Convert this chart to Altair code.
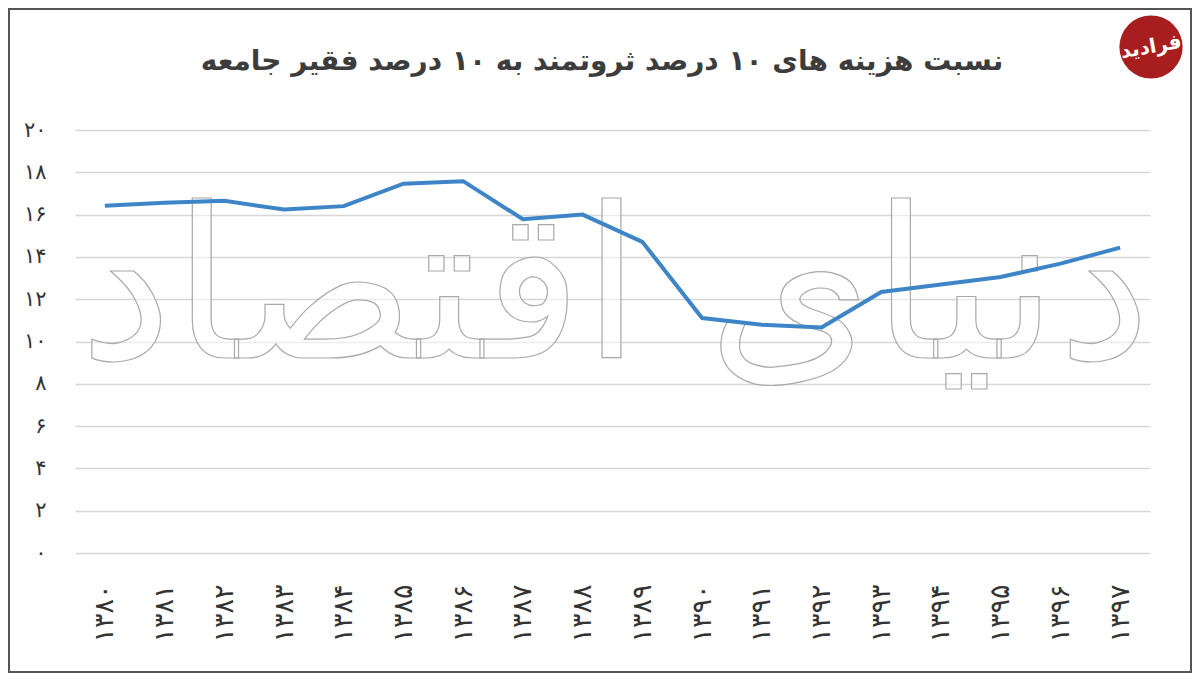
import pandas as pd
import altair as alt

# Years (Persian calendar) and the ratio of spending, top 10% vs bottom 10%
years = ['۱۳۸۰', '۱۳۸۱', '۱۳۸۲', '۱۳۸۳', '۱۳۸۴', '۱۳۸۵', '۱۳۸۶', '۱۳۸۷', '۱۳۸۸',
         '۱۳۸۹', '۱۳۹۰', '۱۳۹۱', '۱۳۹۲', '۱۳۹۳', '۱۳۹۴', '۱۳۹۵', '۱۳۹۶', '۱۳۹۷']
ratio = [16.42, 16.56, 16.65, 16.24, 16.4, 17.46, 17.58, 15.78, 16.0,
         14.71, 11.11, 10.79, 10.66, 12.34, 12.69, 13.05, 13.68, 14.44]

y_ticks = [0, 2, 4, 6, 8, 10, 12, 14, 16, 18, 20]
y_tick_labels = ['۰', '۲', '۴', '۶', '۸', '۱۰', '۱۲', '۱۴', '۱۶', '۱۸', '۲۰']

title_text = 'نسبت هزینه های ۱۰ درصد ثروتمند به ۱۰ درصد فقیر جامعه'
watermark = 'دنیای اقتصاد'
logo_text = 'فرادید'

df = pd.DataFrame({'year': years, 'ratio': ratio})

# label expression mapping tick values to Persian digits
label_expr = "''"
for v, lab in reversed(list(zip(y_ticks, y_tick_labels))):
    label_expr = f"datum.value == {v} ? '{lab}' : ({label_expr})"

W, H = 1075, 423
FONT = 'DejaVu Sans'

x_enc = alt.X('year:N', sort=None, title=None,
              scale=alt.Scale(type='point', padding=0.5),
              axis=alt.Axis(labelAngle=270, labelAlign='right', labelBaseline='middle',
                            labelPadding=31, labelFontSize=27, labelColor='#333',
                            labelFont=FONT, ticks=False, domain=False, grid=False))
y_enc = alt.Y('ratio:Q', title=None,
              scale=alt.Scale(domain=[0, 20], nice=False),
              axis=alt.Axis(values=y_ticks, labelExpr=label_expr, labelFontSize=21,
                            labelColor='#333', labelFont=FONT, labelPadding=29,
                            ticks=False, domain=False, gridColor='#d6d6d6', gridWidth=1.5))

one = pd.DataFrame({'a': [0]})

mark_wm = alt.Chart(one).mark_text(
    text=watermark, font=FONT, fontSize=210, fill='white', fillOpacity=0.55,
    stroke='#aaaaaa', strokeWidth=1.2, align='center', baseline='middle'
).encode(x=alt.value(540), y=alt.value(165))

line = alt.Chart(df).mark_line(color='#3d85c6', strokeWidth=4).encode(x=x_enc, y=y_enc)

title = alt.Chart(one).mark_text(
    text=title_text, font=FONT, fontSize=28, fontWeight='bold', color='#3c3c3c',
    align='center', baseline='alphabetic'
).encode(x=alt.value(527), y=alt.value(-60))

logo = alt.Chart(one).mark_circle(color='#a81e1e', opacity=1, size=4000).encode(
    x=alt.value(1076), y=alt.value(-83))
logo_lab = alt.Chart(one).mark_text(
    text=logo_text, font=FONT, fontSize=20, fontWeight='bold', color='white', angle=350
).encode(x=alt.value(1076), y=alt.value(-83))

frame = alt.Chart(one).mark_rect(fillOpacity=0, stroke='#555', strokeWidth=2).encode(
    x=alt.value(-66), x2=alt.value(W + 41), y=alt.value(-121), y2=alt.value(H + 119))

chart = alt.layer(mark_wm, line, title, logo, logo_lab, frame).properties(
    width=W, height=H,
    background='white',
    autosize=alt.AutoSizeParams(type='none'),
    padding={'left': 67, 'top': 122, 'right': 42, 'bottom': 120},
).configure_view(strokeWidth=0)

chart.save('out.html', embed_options={'renderer': 'svg', 'actions': False})
